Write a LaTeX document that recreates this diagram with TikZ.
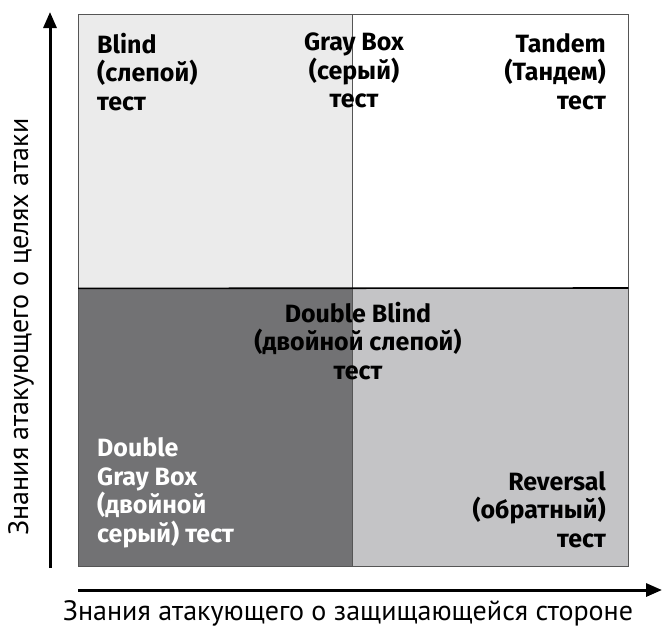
\documentclass[tikz,border=0pt]{standalone}
\usepackage{fontspec}
\setmainfont{Fira Sans}
\newfontfamily\axisfont{PT Sans}
\usetikzlibrary{arrows.meta}

\definecolor{quadlight}{HTML}{EBEBEB}
\definecolor{quaddark}{HTML}{727274}
\definecolor{quadmid}{HTML}{C4C4C6}
\definecolor{quadline}{HTML}{555555}

\tikzset{
  quad/.style={rectangle, inner sep=0pt, anchor=north west},
  label text/.style={font=\bfseries\fontsize{25}{28.5}\selectfont, inner sep=0pt},
  axis text/.style={font=\axisfont\fontsize{28}{30}\selectfont, inner sep=0pt},
  axis arrow/.style={line width=3pt, -{Triangle[length=16pt,width=13pt]}}
}

\begin{document}
\begin{tikzpicture}[x=1pt, y=-1pt]
\useasboundingbox (0,0) rectangle (668,630);

% quadrants
\node [quad, fill=quadlight, minimum width=274pt, minimum height=274pt] (q-blind) at (78,14) {};
\node [quad, fill=white, minimum width=276pt, minimum height=274pt] (q-tandem) at (352,14) {};
\node [quad, fill=quaddark, minimum width=274pt, minimum height=278pt] (q-double) at (78,288) {};
\node [quad, fill=quadmid, minimum width=276pt, minimum height=278pt] (q-reversal) at (352,288) {};

\draw [quadline, line width=1pt] (q-blind.north west) rectangle (q-reversal.south east);
\draw [quadline, line width=1pt] (q-blind.north east) -- (q-double.south east);
\draw [black, line width=1.6pt] (q-blind.south west) -- (q-reversal.north east);

% labels
\node [label text, align=left, anchor=north west] (blind) at (97,33)
  {Blind\\(слепой)\\тест};
\node [label text, align=center, anchor=north] (graybox) at (354,33)
  {Gray Box\\(серый)\\тест};
\node [label text, align=right, anchor=north east] (tandem) at (606,33)
  {Tandem\\(Тандем)\\тест};
\node [label text, align=center, anchor=north] (doubleblind) at (358,302)
  {Double Blind\\(двойной слепой)\\тест};
\node [label text, align=left, anchor=south west, white] (doublegray) at (97,548)
  {Double\\Gray Box\\(двойной\\серый) тест};
\node [label text, align=right, anchor=south east] (reversal) at (606,548)
  {Reversal\\(обратный)\\тест};

% axes
\coordinate (x-start) at (78,590);
\coordinate (x-end) at (662,590);
\coordinate (y-start) at (50,568);
\coordinate (y-end) at (50,12);
\draw [axis arrow] (x-start) -- (x-end);
\draw [axis arrow] (y-start) -- (y-end);

\node [axis text] (x-label) at (348,613) {Знания атакующего о защищающейся стороне};
\node [axis text, rotate=90] (y-label) at (21,327) {Знания атакующего о целях атаки};

\end{tikzpicture}
\end{document}
